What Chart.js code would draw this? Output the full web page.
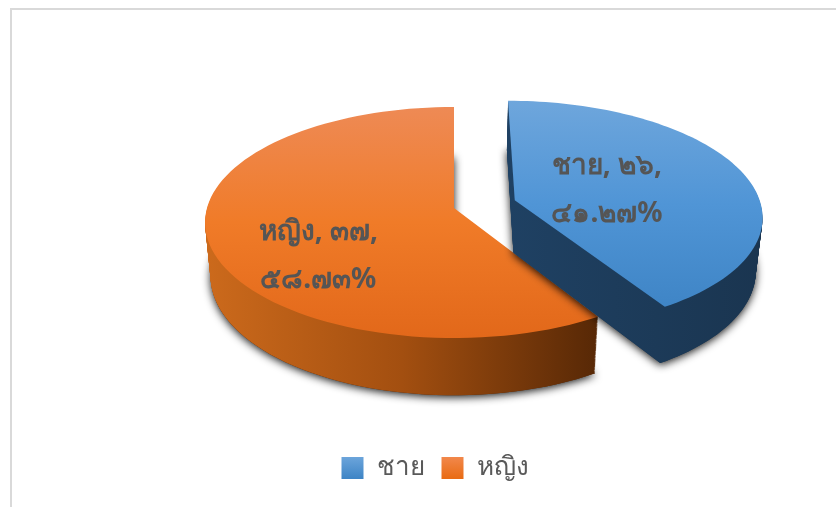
<!DOCTYPE html>
<html>
<head>
<meta charset="utf-8">
<script src="https://cdn.jsdelivr.net/npm/chart.js@4/dist/chart.umd.min.js"></script>
<style>
  html, body { margin: 0; padding: 0; background: #fff; }
  #frame { position: absolute; left: 10px; top: 8px; width: 826px; height: 499px; border-top: 2px solid #d9d9d9; border-left: 2px solid #d9d9d9; box-sizing: border-box; }
  #myChart { position: absolute; left: 0; top: 0; }
</style>
</head>
<body>
<div id="frame"></div>
<canvas id="myChart" width="836" height="507"></canvas>
<script>
const categories = ["ชาย", "หญิง"];
const values = [26, 37];
const valueLabels = ["๒๖", "๓๗"];
const percentLabels = ["๔๑.๒๗%", "๕๘.๗๓%"];

const sliceOffsets = [50, 0];
const FONT = "'Noto Sans', sans-serif";

// colours for each slice: top face gradient, side gradient, legend swatch
const topColors = [
    ["#6EA6DC", "#5095D6", "#3F85C6"],
    ["#EE8A55", "#F07B28", "#E2681A"]
];
const sideColors = [
    ["#1F4163", "#1A3550"],
    ["#CC6A1C", "#A34F10", "#572806"]
];
const legendColors = [
    ["#6EA6DC", "#3F85C6"],
    ["#F2894E", "#E96C15"]
];

// label position inside each slice: t along the middle radius, dy in pixels
const labelPlace = [{ t: 0.4, dy: 2 }, { t: 0.56, dy: 30 }];

// fake 3D camera, the flat pie plane is projected with a small perspective
const view = { cx: 454, cy: 208, rx: 247, ry: 113.7, k: 0.1255, depth: 53, shrink: 0.022 };

function project(u, v, d) {
    const w = 1 - view.k * v;
    const f = 1 - view.shrink * (d / view.depth);
    return {
        x: view.cx + view.rx * u / w * f,
        y: view.cy + view.ry * v / w + d * (1 + 0.08 * v)
    };
}

// plane coordinates of an arc element, radius 1 = library outerRadius
function sliceOutline(el) {
    const mid = (el.startAngle + el.endAngle) / 2;
    const off = el.options.offset / el.outerRadius;
    const ox = Math.cos(mid) * off;
    const oy = Math.sin(mid) * off;
    const pts = [[ox, oy]];
    const steps = 90;
    for (let i = 0; i <= steps; i++) {
        const a = el.startAngle + (el.endAngle - el.startAngle) * i / steps;
        pts.push([ox + Math.cos(a), oy + Math.sin(a)]);
    }
    return { pts, ox, oy, mid };
}

function tracePath(ctx, pts, d) {
    ctx.beginPath();
    pts.forEach((p, i) => {
        const s = project(p[0], p[1], d);
        if (i === 0) ctx.moveTo(s.x, s.y);
        else ctx.lineTo(s.x, s.y);
    });
    ctx.closePath();
}

function makeGradient(ctx, x0, y0, x1, y1, colors) {
    const g = ctx.createLinearGradient(x0, y0, x1, y1);
    colors.forEach((c, i) => g.addColorStop(i / (colors.length - 1), c));
    return g;
}

const pie3d = {
    id: "pie3d",
    beforeDatasetsDraw(chart) {
        const ctx = chart.ctx;
        const arcs = chart.getDatasetMeta(0).data;

        // draw the big slice first, the blue one sits in front of its wall
        [1, 0].forEach(i => {
            const el = arcs[i];
            const { pts } = sliceOutline(el);
            const screen = pts.map(p => project(p[0], p[1], 0));
            const xs = screen.map(p => p.x);
            const ys = screen.map(p => p.y);
            const minX = Math.min(...xs), maxX = Math.max(...xs);
            const minY = Math.min(...ys), maxY = Math.max(...ys);

            // 1. shadow under the bottom face
            ctx.save();
            ctx.shadowColor = "rgba(0,0,0,0.9)";
            ctx.shadowBlur = 9;
            ctx.shadowOffsetY = 2;
            ctx.fillStyle = sideColors[i][sideColors[i].length - 1];
            tracePath(ctx, pts, view.depth);
            ctx.fill();
            ctx.restore();

            // 2. side walls, stacked layers
            ctx.fillStyle = makeGradient(ctx, minX, 0, maxX, 0, sideColors[i]);
            for (let d = view.depth; d > 0; d--) {
                tracePath(ctx, pts, d);
                ctx.fill();
            }

            // 3. top face
            ctx.fillStyle = makeGradient(ctx, 0, minY, 0, maxY, topColors[i]);
            tracePath(ctx, pts, 0);
            ctx.fill();
        });

        // 4. data labels
        ctx.save();
        ctx.fillStyle = "#555555";
        ctx.font = "bold 28px " + FONT;
        ctx.textAlign = "center";
        ctx.textBaseline = "middle";
        arcs.forEach((el, i) => {
            const { ox, oy, mid } = sliceOutline(el);
            const t = labelPlace[i].t;
            const c = project(ox + Math.cos(mid) * t, oy + Math.sin(mid) * t, 0);
            const y = c.y + labelPlace[i].dy;
            ctx.fillText(categories[i] + ", " + valueLabels[i] + ",", c.x, y - 24);
            ctx.fillText(percentLabels[i], c.x, y + 24);
        });
        ctx.restore();
        return false;
    }
};

const ctx = document.getElementById("myChart").getContext("2d");

new Chart(ctx, {
    type: "pie",
    data: {
        labels: categories,
        datasets: [{
            data: values,
            backgroundColor: ["#5095D6", "#F07B28"],
            borderWidth: 0,
            offset: sliceOffsets
        }]
    },
    options: {
        responsive: false,
        animation: false,
        events: [],
        layout: { padding: { left: 34, bottom: 16 } },
        plugins: {
            tooltip: { enabled: false },
            legend: {
                position: "bottom",
                labels: {
                    boxWidth: 22,
                    boxHeight: 22,
                    padding: 17,
                    color: "#595959",
                    font: { family: FONT, size: 26 },
                    generateLabels(chart) {
                        return categories.map((name, i) => ({
                            text: name,
                            fillStyle: makeGradient(chart.ctx, 0, 456, 0, 478, legendColors[i]),
                            strokeStyle: "rgba(0,0,0,0)",
                            lineWidth: 0,
                            fontColor: "#595959",
                            index: i
                        }));
                    }
                }
            }
        }
    },
    plugins: [pie3d]
});
</script>
</body>
</html>
